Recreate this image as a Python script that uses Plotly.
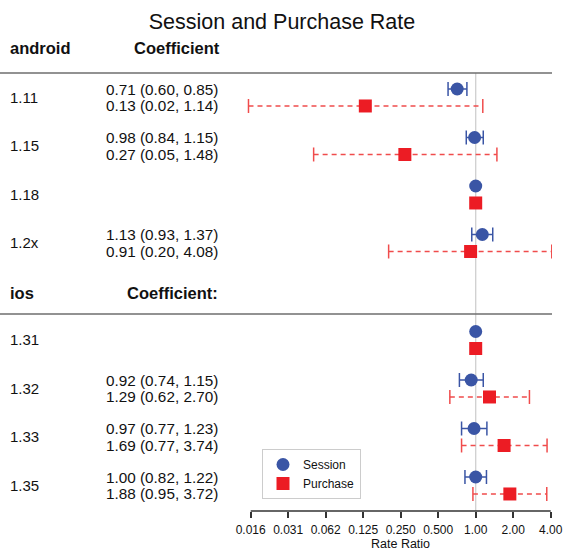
import numpy as np
import plotly.graph_objects as go

# ---------------- data ----------------
platforms = ["android", "ios"]
platform_headers = ["Coefficient", "Coefficient:"]
versions = ["1.11", "1.15", "1.18", "1.2x", "1.31", "1.32", "1.33", "1.35"]
version_platform = ["android", "android", "android", "android", "ios", "ios", "ios", "ios"]

session_est = [0.71, 0.98, 1.00, 1.13, 1.00, 0.92, 0.97, 1.00]
session_low = [0.60, 0.84, None, 0.93, None, 0.74, 0.77, 0.82]
session_high = [0.85, 1.15, None, 1.37, None, 1.15, 1.23, 1.22]

purchase_est = [0.13, 0.27, 1.00, 0.91, 1.00, 1.29, 1.69, 1.88]
purchase_low = [0.015, 0.05, None, 0.20, None, 0.62, 0.77, 0.95]
purchase_high = [1.14, 1.48, None, 4.08, None, 2.70, 3.74, 3.72]

session_text = ["0.71 (0.60, 0.85)", "0.98 (0.84, 1.15)", "", "1.13 (0.93, 1.37)",
                "", "0.92 (0.74, 1.15)", "0.97 (0.77, 1.23)", "1.00 (0.82, 1.22)"]
purchase_text = ["0.13 (0.02, 1.14)", "0.27 (0.05, 1.48)", "", "0.91 (0.20, 4.08)",
                 "", "1.29 (0.62, 2.70)", "1.69 (0.77, 3.74)", "1.88 (0.95, 3.72)"]

tick_vals = [2.0 ** k for k in range(-6, 3)]
tick_labels = ["0.016", "0.031", "0.062", "0.125", "0.250", "0.500", "1.00", "2.00", "4.00"]
x_title = "Rate Ratio"
chart_title = "Session and Purchase Rate"

# ---------------- layout helpers ----------------
BLUE = "#3A55A5"
RED = "#EC1C24"
RED_LINE = "#F04C4C"
FONT = "Liberation Sans, Arial, sans-serif"

# row slots: android groups 0..3, a header slot, ios groups 5..8
slots = []
for i, p in enumerate(version_platform):
    slots.append(i if p == "android" else i + 1)
slots = np.array(slots, dtype=float)
OFF = 0.35
y_sess = slots
y_purch = slots + OFF

W, H = 564, 552
L, R, T, B = 240, 12, 73, 41
pw = W - L - R
ph = H - T - B


def px_x(px):
    return (px - L) / pw


def px_y(py):
    return (H - B - py) / ph


def ci_xy(lo, hi, y):
    xs, ys = [], []
    for a, b, yy in zip(lo, hi, y):
        if a is None:
            continue
        xs += [a, b, None]
        ys += [yy, yy, None]
    return xs, ys


fig = go.Figure()

sx, sy = ci_xy(session_low, session_high, y_sess)
fig.add_trace(go.Scatter(
    x=sx, y=sy, mode="lines+markers", showlegend=False, hoverinfo="skip",
    line=dict(color=BLUE, width=1.5),
    marker=dict(symbol="line-ns", size=10, line=dict(color=BLUE, width=1.5)),
))
pxs, pys = ci_xy(purchase_low, purchase_high, y_purch)
fig.add_trace(go.Scatter(
    x=pxs, y=pys, mode="lines+markers", showlegend=False, hoverinfo="skip",
    line=dict(color=RED_LINE, width=1.3, dash="5px,4px"),
    marker=dict(symbol="line-ns", size=10, line=dict(color=RED_LINE, width=1.5)),
))
fig.add_trace(go.Scatter(
    x=session_est, y=y_sess, mode="markers", name="Session",
    marker=dict(symbol="circle", size=13, color=BLUE),
))
fig.add_trace(go.Scatter(
    x=purchase_est, y=y_purch, mode="markers", name="Purchase",
    marker=dict(symbol="square", size=13, color=RED),
))

annotations = []
for v, ys, yp, st, pt in zip(versions, y_sess, y_purch, session_text, purchase_text):
    annotations.append(dict(x=px_x(8), y=(ys + yp) / 2, xref="paper", yref="y", text=v,
                            showarrow=False, xanchor="left", yanchor="middle",
                            font=dict(size=15, color="#111", family=FONT)))
    if st:
        annotations.append(dict(x=px_x(104), y=ys, xref="paper", yref="y", text=st,
                                showarrow=False, xanchor="left", yanchor="middle",
                                font=dict(size=15.3, color="#111", family=FONT)))
    if pt:
        annotations.append(dict(x=px_x(104), y=yp, xref="paper", yref="y", text=pt,
                                showarrow=False, xanchor="left", yanchor="middle",
                                font=dict(size=15.3, color="#111", family=FONT)))

y_top = -0.33
y_bot = (511 - 89) / 48.5


def slot_to_paper(s):
    return (y_bot - s) / (y_bot - y_top)


header_slots = [(48 - 89) / 48.5, (293 - 89) / 48.5]
line_slots = [y_top, (314 - 89) / 48.5]
header_centers = [177, 172]
shapes = []
for p, htxt, hs, ls, hc in zip(platforms, platform_headers, header_slots, line_slots, header_centers):
    annotations.append(dict(x=px_x(8), y=slot_to_paper(hs), xref="paper", yref="paper",
                            text="<b>%s</b>" % p, showarrow=False, xanchor="left",
                            yanchor="middle", font=dict(size=16.5, color="#111", family=FONT)))
    annotations.append(dict(x=px_x(hc), y=slot_to_paper(hs), xref="paper", yref="paper",
                            text="<b>%s</b>" % htxt, showarrow=False, xanchor="center",
                            yanchor="middle", font=dict(size=16.5, color="#111", family=FONT)))
    shapes.append(dict(type="line", xref="paper", yref="paper", x0=px_x(0), x1=px_x(552),
                       y0=slot_to_paper(ls), y1=slot_to_paper(ls),
                       line=dict(color="#6E6E6E", width=1.5)))

# x-axis title, kept just inside the page bottom
annotations.append(dict(x=px_x(400), y=0, xref="paper", yref="paper", text=x_title,
                        showarrow=False, xanchor="center", yanchor="bottom", borderpad=0,
                        yshift=-(H - B - 3) + (H - B) - (H - (H - B)) + 3 - 1 + 0,
                        font=dict(size=12.5, color="#111", family=FONT)))
annotations[-1]["yanchor"] = "bottom"
annotations[-1]["y"] = px_y(552)
annotations[-1]["yshift"] = 0

shapes.append(dict(type="line", xref="x", yref="paper", x0=1, x1=1, y0=0, y1=1,
                   layer="below", line=dict(color="#CFCFCF", width=1.3)))
shapes.append(dict(type="line", xref="x", yref="paper", x0=tick_vals[0], x1=tick_vals[-1],
                   y0=0, y1=0, line=dict(color="#333", width=1.5)))

lo = -6 - (250.7 - L) / 37.5
hi = 2 + (W - R - 550.7) / 37.5

fig.update_layout(
    width=W, height=H,
    margin=dict(l=L, r=R, t=T, b=B, autoexpand=False),
    paper_bgcolor="white", plot_bgcolor="white",
    font=dict(family=FONT, color="#111"),
    title=dict(text=chart_title, x=0.5, xref="container", xanchor="center",
               y=1 - 21 / H, yanchor="middle", font=dict(size=21.5, color="#111", family=FONT)),
    xaxis=dict(type="log", range=[lo * np.log10(2), hi * np.log10(2)], automargin=False,
               tickvals=tick_vals, ticktext=tick_labels, showgrid=False, zeroline=False,
               showline=False, ticks="outside", ticklen=6, tickwidth=1.5, tickcolor="#333",
               tickfont=dict(size=12, color="#111", family=FONT), ticklabelstandoff=2),
    yaxis=dict(range=[y_bot, y_top], showgrid=False, zeroline=False, showline=False,
               showticklabels=False, ticks="", automargin=False),
    legend=dict(x=px_x(262), y=px_y(449), xanchor="left", yanchor="top",
                bordercolor="#CCCCCC", borderwidth=1, bgcolor="white",
                font=dict(size=12, color="#111", family=FONT), itemwidth=30),
    annotations=annotations,
    shapes=shapes,
    showlegend=True,
)

fig.write_html("out.html", config={"displayModeBar": False},
               post_script="document.body.style.margin='0';")
